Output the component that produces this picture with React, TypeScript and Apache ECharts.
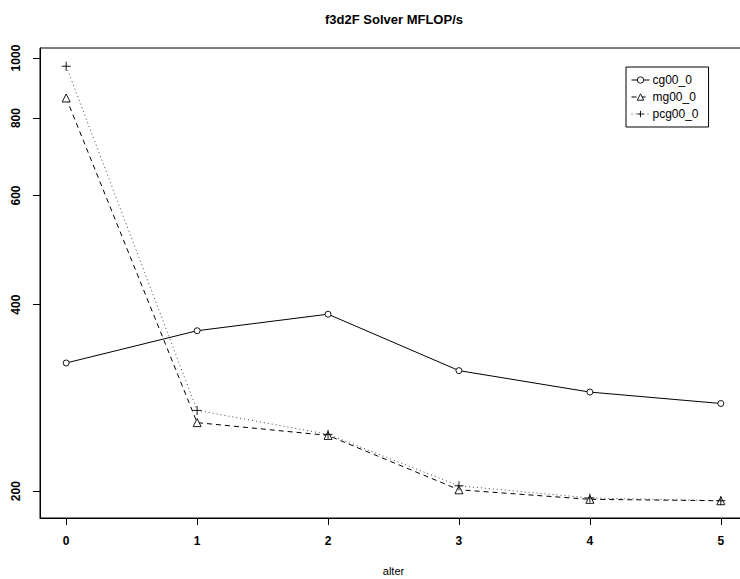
import React, { useEffect, useRef } from "react";
import * as echarts from "echarts";

const xValues = [0, 1, 2, 3, 4, 5];
const cg = [322, 363, 386, 313, 289, 277];
const mg = [862, 258, 246, 201, 194, 193];
const pcg = [970, 270, 247, 204, 195, 193];
const yTicks = [200, 400, 600, 800, 1000];
const seriesNames = ["cg00_0", "mg00_0", "pcg00_0"];

const FONT = "Liberation Sans, Arial, Helvetica, sans-serif";
const PLUS = "path://M5,0L5,10M0,5L10,5";
const CIRCLE = "path://M10,5A5,5,0,1,1,0,5A5,5,0,1,1,10,5Z";
const TRIANGLE = "path://M5,0L10,9L0,9Z";

export default function App() {
  const ref = useRef<HTMLDivElement>(null);
  useEffect(() => {
    document.body.style.margin = "0";
    document.body.style.overflow = "hidden";
    const chart = echarts.init(ref.current!, undefined, { renderer: "svg" });
    const pairs = (ys: number[]) => xValues.map((x, i) => [x, ys[i]]);
    chart.setOption({
      animation: false,
      backgroundColor: "#fff",
      title: {
        text: "f3d2F Solver MFLOP/s",
        left: 394,
        top: 13,
        textAlign: "center",
        padding: 0,
        textStyle: { fontFamily: FONT, fontSize: 13, fontWeight: "bold", color: "#000" },
      },
      legend: {
        left: 626,
        top: 67,
        orient: "vertical",
        padding: [7, 10, 7, 5],
        itemGap: 5,
        itemWidth: 18,
        itemHeight: 8,
        borderColor: "#000",
        borderWidth: 1,
        borderRadius: 0,
        data: seriesNames,
        itemStyle: { borderWidth: 0.9 },
        lineStyle: { width: 1 },
        textStyle: { fontFamily: FONT, fontSize: 12, color: "#000", padding: [0, 0, 0, -2] },
      },
      grid: {
        left: 40,
        top: 48,
        width: 707,
        height: 470,
        outerBoundsMode: "none",
        containLabel: false,
        show: true,
        borderColor: "#000",
        borderWidth: 1,
        backgroundColor: "transparent",
      },
      xAxis: {
        type: "value",
        min: -0.2,
        max: 5.2,
        name: "alter",
        nameLocation: "middle",
        nameGap: 47,
        nameTextStyle: { fontFamily: FONT, fontSize: 11, color: "#000" },
        axisLine: { show: true, onZero: false, lineStyle: { color: "#000", width: 1 } },
        axisTick: { show: true, length: 7, customValues: xValues, lineStyle: { color: "#000" } },
        axisLabel: {
          customValues: xValues,
          margin: 17,
          fontFamily: FONT,
          fontSize: 12,
          fontWeight: "bold",
          color: "#000",
          formatter: (v: number) => String(Math.round(v)),
        },
        splitLine: { show: false },
      },
      yAxis: {
        type: "log",
        logBase: 10,
        min: 181,
        max: 1038,
        axisLine: { show: true, onZero: false, lineStyle: { color: "#000", width: 1 } },
        axisTick: { show: true, length: 7, customValues: yTicks, lineStyle: { color: "#000" } },
        axisLabel: {
          customValues: yTicks,
          rotate: 90,
          margin: 18,
          fontFamily: FONT,
          fontSize: 12,
          fontWeight: "bold",
          color: "#000",
          formatter: (v: number) => String(Math.round(v)),
        },
        splitLine: { show: false },
      },
      series: [
        {
          name: seriesNames[0],
          type: "line",
          data: pairs(cg),
          symbol: CIRCLE,
          symbolSize: 6,
          lineStyle: { color: "#000", width: 1, type: "solid" },
          itemStyle: { color: "#fff", borderColor: "#000", borderWidth: 0.9 },
        },
        {
          name: seriesNames[1],
          type: "line",
          data: pairs(mg),
          symbol: TRIANGLE,
          symbolSize: 8,
          lineStyle: { color: "#000", width: 1, type: [5, 4] },
          itemStyle: { color: "#fff", borderColor: "#000", borderWidth: 0.9 },
        },
        {
          name: seriesNames[2],
          type: "line",
          data: pairs(pcg),
          symbol: PLUS,
          symbolSize: 9,
          lineStyle: { color: "#444", width: 1, type: [1, 3] },
          itemStyle: { color: "none", borderColor: "#000", borderWidth: 0.9 },
        },
      ],
    });
    return () => chart.dispose();
  }, []);
  return <div ref={ref} style={{ width: 740, height: 579 }} />;
}
